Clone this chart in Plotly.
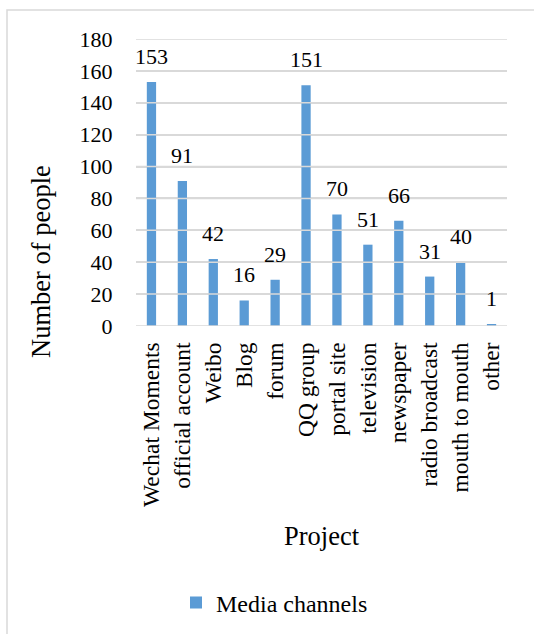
import plotly.graph_objects as go

categories = ["Wechat Moments", "official account", "Weibo", "Blog", "forum",
              "QQ group", "portal site", "television", "newspaper",
              "radio broadcast", "mouth to mouth", "other"]
values = [153, 91, 42, 16, 29, 151, 70, 51, 66, 31, 40, 1]
series_name = "Media channels"
y_ticks = [0, 20, 40, 60, 80, 100, 120, 140, 160, 180]

W, H = 534, 634
ML, MR, MT, MB = 136, 27, 39, 308
PW = W - ML - MR
PH = H - MT - MB
x0px = ML
y0px = MT + PH

def px_x(px):
    return (px - x0px) / PW

def px_y(py):
    return (y0px - py) / PH

FONT = "Liberation Serif"
BAR = "#5B9BD5"
GRID = "#D9D9D9"

idx = list(range(len(categories)))
xlo, xhi = -0.5, len(categories) - 0.5

# gridlines as a line trace drawn through the axes
gx, gy = [], []
for t in y_ticks:
    gx += [xlo, xhi, None]
    gy += [t, t, None]

fig = go.Figure()
fig.add_trace(go.Scatter(
    x=gx, y=gy, mode="lines", line=dict(color=GRID, width=1.5),
    showlegend=False, hoverinfo="skip", cliponaxis=False,
))
fig.add_trace(go.Bar(
    x=idx, y=values, name=series_name,
    marker=dict(color=BAR, line=dict(width=0)),
    width=0.3, showlegend=True,
))

annotations = []
for i, v in zip(idx, values):
    annotations.append(dict(
        x=i, y=v, xref="x", yref="y", text=str(v), showarrow=False,
        yanchor="bottom", yshift=11,
        font=dict(family=FONT, size=22, color="black"),
    ))

annotations.append(dict(
    x=px_x(321.5), y=px_y(536), xref="paper", yref="paper",
    text="Project", showarrow=False, xanchor="center", yanchor="middle",
    font=dict(family=FONT, size=26.5, color="black"),
))
annotations.append(dict(
    x=px_x(41), y=px_y(261), xref="paper", yref="paper",
    text="Number of people", showarrow=False, textangle=-90,
    xanchor="center", yanchor="middle",
    font=dict(family=FONT, size=26.5, color="black"),
))

shapes = [dict(
    type="rect", xref="paper", yref="paper",
    x0=px_x(7), x1=px_x(560), y0=px_y(660), y1=px_y(10),
    line=dict(color=GRID, width=1.5), fillcolor="rgba(0,0,0,0)",
)]

fig.update_layout(
    width=W, height=H,
    margin=dict(l=ML, r=MR, t=MT, b=MB, autoexpand=False),
    paper_bgcolor="white", plot_bgcolor="white",
    annotations=annotations,
    shapes=shapes,
    showlegend=True,
    font=dict(family=FONT, color="black"),
    legend=dict(
        x=px_x(176), y=px_y(603), xanchor="left", yanchor="middle",
        orientation="h", font=dict(family=FONT, size=24, color="black"),
        bgcolor="rgba(0,0,0,0)",
    ),
    xaxis=dict(
        range=[xlo, xhi], tickvals=idx, ticktext=categories, tickangle=-90,
        tickfont=dict(family=FONT, size=23.5, color="black"),
        showline=False, showgrid=False, zeroline=False,
        ticks="outside", ticklen=6, tickcolor="rgba(0,0,0,0)",
        automargin=False,
    ),
    yaxis=dict(
        range=[0, 180], tickvals=y_ticks,
        tickfont=dict(family=FONT, size=22, color="black"),
        showgrid=True, gridcolor=GRID, gridwidth=1.5,
        zeroline=False, showline=False,
        ticks="outside", ticklen=18, tickcolor="rgba(0,0,0,0)",
        automargin=False,
    ),
)

fig.write_html("out.html")
